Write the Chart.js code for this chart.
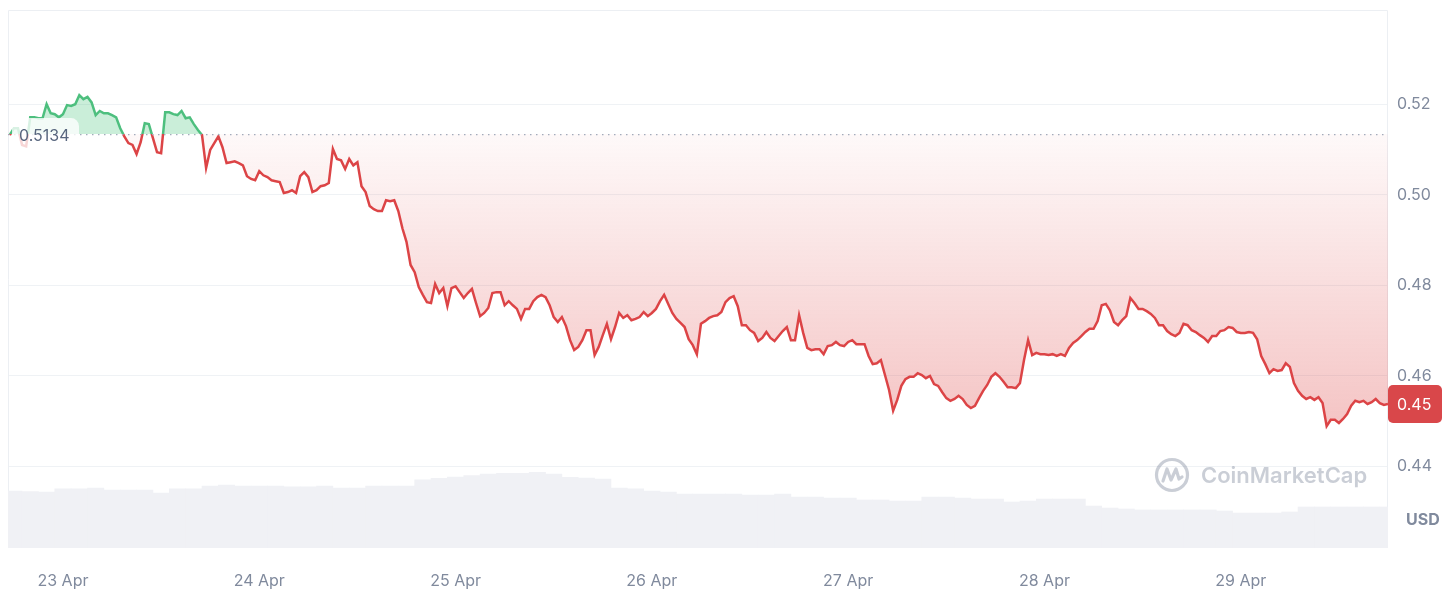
<!DOCTYPE html>
<html>
<head>
<meta charset="utf-8">
<script src="https://cdn.jsdelivr.net/npm/chart.js@4.4.1/dist/chart.umd.min.js"></script>
<style>
  html, body { margin: 0; padding: 0; background: #ffffff; }
  #wrap { width: 1456px; height: 604px; }
</style>
</head>
<body>
<div id="wrap"><canvas id="chart"></canvas></div>
<script>
// price every 30 min, first point 22 Apr 17:30 (hours counted from 23 Apr 00:00)
const priceStartHour = -6.5;
const priceStepHours = 0.5;
const prices = [
  0.5132, 0.5147, 0.5147, 0.5110, 0.5107, 0.5171, 0.5171, 0.5169, 0.5169, 0.5200,
  0.5180, 0.5178, 0.5171, 0.5178, 0.5198, 0.5196, 0.5200, 0.5220, 0.5211, 0.5216,
  0.5204, 0.5176, 0.5185, 0.5180, 0.5180, 0.5176, 0.5171, 0.5147, 0.5129, 0.5114,
  0.5110, 0.5090, 0.5116, 0.5158, 0.5156, 0.5125, 0.5094, 0.5092, 0.5182, 0.5182,
  0.5178, 0.5176, 0.5185, 0.5169, 0.5171, 0.5156, 0.5143, 0.5132, 0.5059, 0.5099,
  0.5114, 0.5129, 0.5105, 0.5070, 0.5072, 0.5074, 0.5070, 0.5065, 0.5041, 0.5035,
  0.5032, 0.5052, 0.5043, 0.5039, 0.5032, 0.5030, 0.5028, 0.5004, 0.5006, 0.5010,
  0.5004, 0.5041, 0.5050, 0.5039, 0.5006, 0.5010, 0.5019, 0.5021, 0.5026, 0.5101,
  0.5079, 0.5076, 0.5057, 0.5079, 0.5065, 0.5072, 0.5019, 0.5006, 0.4975, 0.4968,
  0.4964, 0.4964, 0.4988, 0.4986, 0.4988, 0.4964, 0.4926, 0.4896, 0.4845, 0.4829,
  0.4796, 0.4779, 0.4763, 0.4761, 0.4803, 0.4783, 0.4794, 0.4754, 0.4794, 0.4798,
  0.4785, 0.4772, 0.4783, 0.4792, 0.4761, 0.4732, 0.4739, 0.4750, 0.4783, 0.4785,
  0.4785, 0.4756, 0.4765, 0.4756, 0.4748, 0.4726, 0.4748, 0.4748, 0.4765, 0.4774,
  0.4779, 0.4774, 0.4756, 0.4730, 0.4719, 0.4730, 0.4710, 0.4679, 0.4657, 0.4664,
  0.4679, 0.4701, 0.4701, 0.4646, 0.4664, 0.4690, 0.4715, 0.4681, 0.4708, 0.4739,
  0.4728, 0.4734, 0.4723, 0.4726, 0.4730, 0.4741, 0.4732, 0.4739, 0.4748, 0.4765,
  0.4779, 0.4759, 0.4739, 0.4726, 0.4717, 0.4708, 0.4681, 0.4668, 0.4648, 0.4715,
  0.4721, 0.4728, 0.4732, 0.4734, 0.4741, 0.4763, 0.4772, 0.4776, 0.4754, 0.4712,
  0.4712, 0.4701, 0.4695, 0.4677, 0.4684, 0.4697, 0.4684, 0.4677, 0.4688, 0.4699,
  0.4708, 0.4679, 0.4679, 0.4734, 0.4695, 0.4662, 0.4657, 0.4659, 0.4659, 0.4648,
  0.4666, 0.4668, 0.4675, 0.4668, 0.4666, 0.4675, 0.4679, 0.4670, 0.4670, 0.4670,
  0.4644, 0.4626, 0.4628, 0.4635, 0.4602, 0.4569, 0.4523, 0.4547, 0.4578, 0.4593,
  0.4598, 0.4598, 0.4606, 0.4602, 0.4595, 0.4600, 0.4582, 0.4578, 0.4564, 0.4551,
  0.4545, 0.4549, 0.4556, 0.4549, 0.4536, 0.4529, 0.4534, 0.4551, 0.4567, 0.4580,
  0.4598, 0.4606, 0.4598, 0.4587, 0.4575, 0.4575, 0.4573, 0.4584, 0.4635, 0.4679,
  0.4646, 0.4651, 0.4648, 0.4648, 0.4646, 0.4648, 0.4644, 0.4648, 0.4644, 0.4662,
  0.4673, 0.4679, 0.4688, 0.4697, 0.4704, 0.4704, 0.4721, 0.4756, 0.4759, 0.4745,
  0.4719, 0.4712, 0.4723, 0.4732, 0.4772, 0.4761, 0.4748, 0.4748, 0.4743, 0.4737,
  0.4728, 0.4712, 0.4712, 0.4699, 0.4692, 0.4688, 0.4695, 0.4715, 0.4712, 0.4701,
  0.4697, 0.4690, 0.4684, 0.4675, 0.4688, 0.4688, 0.4699, 0.4701, 0.4708, 0.4706,
  0.4697, 0.4695, 0.4695, 0.4697, 0.4695, 0.4681, 0.4644, 0.4626, 0.4606, 0.4615,
  0.4611, 0.4613, 0.4628, 0.4620, 0.4584, 0.4567, 0.4556, 0.4549, 0.4553, 0.4547,
  0.4553, 0.4540, 0.4489, 0.4503, 0.4503, 0.4496, 0.4505, 0.4516, 0.4534, 0.4545,
  0.4542, 0.4545, 0.4538, 0.4542, 0.4549, 0.4540, 0.4536, 0.4538
];

// 24h volume (M USD) every 2 hours
const volumeStartHour = -6;
const volumeStepHours = 2;
const volumes = [
  424, 420, 416, 439, 439, 446, 431, 431, 431, 409,
  439, 439, 461, 468, 461, 461, 461, 454, 454, 461,
  446, 446, 461, 461, 461, 506, 518, 528, 538, 550,
  555, 555, 563, 550, 526, 520, 513, 446, 439, 424,
  416, 401, 401, 401, 401, 394, 394, 401, 379, 379,
  372, 372, 357, 357, 349, 349, 379, 379, 372, 364,
  364, 342, 349, 364, 364, 364, 312, 297, 290, 283,
  283, 283, 283, 283, 275, 260, 260, 260, 268, 305,
  305, 305, 305, 305, 305
];

const dayHours = [0, 24, 48, 72, 96, 120, 144];
const dayLabels = ['23 Apr', '24 Apr', '25 Apr', '26 Apr', '27 Apr', '28 Apr', '29 Apr'];
const priceTicks = [0.44, 0.46, 0.48, 0.50, 0.52];
const openPrice = 0.5134;
const lastPriceLabel = '0.45';

const GREEN = '#4dbf7e';
const RED = '#dc4446';
const GREY = '#808a9d';
const FONT = 'Inter, "Noto Sans", sans-serif';

const priceData = prices.map((p, i) => ({ x: priceStartHour + i * priceStepHours, y: p }));
const volumeData = volumes.map((v, i) => ({ x: volumeStartHour + i * volumeStepHours, y: v }));

function basePixel(chart) {
  return chart.scales.y.getPixelForValue(openPrice);
}

function lineColor(context) {
  const chart = context.chart;
  const a = chart.chartArea;
  if (!a) return RED;
  const yb = basePixel(chart);
  const s = Math.min(1, Math.max(0, (yb - a.top) / (a.bottom - a.top)));
  const g = chart.ctx.createLinearGradient(0, a.top, 0, a.bottom);
  g.addColorStop(0, GREEN);
  g.addColorStop(s, GREEN);
  g.addColorStop(s, RED);
  g.addColorStop(1, RED);
  return g;
}

function redFill(context) {
  const chart = context.chart;
  const a = chart.chartArea;
  if (!a) return 'rgba(220,60,60,0.1)';
  const yb = basePixel(chart);
  const yl = chart.scales.y.getPixelForValue(Math.min(...prices));
  const g = chart.ctx.createLinearGradient(0, yb, 0, yl);
  g.addColorStop(0, 'rgba(220,60,60,0.03)');
  g.addColorStop(1, 'rgba(220,60,60,0.30)');
  return g;
}

const overlay = {
  id: 'overlay',
  beforeDatasetsDraw(chart) {
    const { ctx, chartArea: a } = chart;
    ctx.save();
    // frame
    ctx.strokeStyle = '#eceff3';
    ctx.lineWidth = 1;
    ctx.beginPath();
    ctx.moveTo(a.left + 0.5, a.bottom);
    ctx.lineTo(a.left + 0.5, a.top + 0.5);
    ctx.lineTo(a.right - 0.5, a.top + 0.5);
    ctx.lineTo(a.right - 0.5, a.bottom);
    ctx.stroke();

    // watermark
    const cx = 1172, cy = 475;
    ctx.strokeStyle = 'rgba(128,138,157,0.42)';
    ctx.lineWidth = 3.2;
    ctx.lineCap = 'round';
    ctx.lineJoin = 'round';
    ctx.beginPath();
    ctx.arc(cx, cy, 15.5, 0, Math.PI * 2);
    ctx.stroke();
    ctx.beginPath();
    ctx.moveTo(cx - 9, cy + 6);
    ctx.lineTo(cx - 5, cy - 6);
    ctx.lineTo(cx - 1, cy + 5);
    ctx.lineTo(cx + 4, cy - 6);
    ctx.lineTo(cx + 7, cy + 4);
    ctx.lineTo(cx + 10, cy + 2);
    ctx.stroke();
    ctx.fillStyle = 'rgba(128,138,157,0.42)';
    ctx.font = '600 22px ' + FONT;
    ctx.textBaseline = 'middle';
    ctx.textAlign = 'left';
    ctx.fillText('CoinMarketCap', 1201, cy + 1);
    ctx.restore();
  },
  afterDatasetsDraw(chart) {
    const { ctx, chartArea: a, scales } = chart;
    const yb = basePixel(chart);
    ctx.save();

    // dotted open-price line
    ctx.strokeStyle = '#a3abbb';
    ctx.lineWidth = 1.3;
    ctx.setLineDash([1.5, 4.5]);
    ctx.beginPath();
    ctx.moveTo(a.left, yb + 0.5);
    ctx.lineTo(a.right, yb + 0.5);
    ctx.stroke();
    ctx.setLineDash([]);

    // open price label
    ctx.fillStyle = 'rgba(255,255,255,0.78)';
    ctx.beginPath();
    ctx.roundRect(12, yb - 16, 67, 31, 8);
    ctx.fill();
    ctx.fillStyle = '#58667e';
    ctx.font = '16px ' + FONT;
    ctx.textBaseline = 'middle';
    ctx.textAlign = 'left';
    ctx.fillText(openPrice.toFixed(4), 19, yb + 2);

    // last price badge
    const yl = scales.y.getPixelForValue(prices[prices.length - 1]);
    ctx.fillStyle = '#d9474a';
    ctx.beginPath();
    ctx.roundRect(a.right, yl - 19, 54, 38, 5);
    ctx.fill();
    ctx.fillStyle = '#ffffff';
    ctx.font = '16px ' + FONT;
    ctx.fillText(lastPriceLabel, a.right + 9, yl + 1);

    // currency
    ctx.fillStyle = GREY;
    ctx.font = 'bold 16px ' + FONT;
    ctx.fillText('USD', 1406, 520);
    ctx.restore();
  }
};

new Chart(document.getElementById('chart'), {
  data: {
    datasets: [
      {
        type: 'line',
        label: 'Price',
        data: priceData,
        yAxisID: 'y',
        borderColor: lineColor,
        backgroundColor: redFill,
        borderWidth: 2.5,
        pointRadius: 0,
        tension: 0,
        fill: { target: { value: openPrice }, above: 'rgba(52,190,110,0.26)' },
        order: 1
      },
      {
        type: 'bar',
        label: 'Volume',
        data: volumeData,
        yAxisID: 'yv',
        backgroundColor: '#f0f1f5',
        borderWidth: 0,
        barPercentage: 1,
        categoryPercentage: 1,
        order: 2
      }
    ]
  },
  options: {
    responsive: true,
    maintainAspectRatio: false,
    animation: false,
    layout: { padding: { left: 8, top: 10, right: 0, bottom: 0 } },
    plugins: {
      legend: { display: false },
      tooltip: { enabled: false }
    },
    scales: {
      x: {
        type: 'linear',
        min: -6.72,
        max: 162,
        offset: false,
        grid: { display: false },
        border: { display: false },
        afterBuildTicks: (scale) => { scale.ticks = dayHours.map(v => ({ value: v })); },
        afterFit: (scale) => {
          scale.height = 56;
          scale.paddingLeft = 0;
          scale.paddingRight = 0;
        },
        ticks: {
          autoSkip: false,
          maxRotation: 0,
          padding: 16,
          color: GREY,
          font: { family: FONT, size: 16 },
          callback: (v, i) => dayLabels[i]
        }
      },
      y: {
        type: 'linear',
        position: 'right',
        min: 0.4220,
        max: 0.5408,
        grid: { color: '#eff2f5', drawTicks: false },
        border: { display: false },
        afterBuildTicks: (scale) => { scale.ticks = priceTicks.map(v => ({ value: v })); },
        afterFit: (scale) => {
          scale.width = 68;
          scale.paddingTop = 0;
          scale.paddingBottom = 0;
        },
        ticks: {
          padding: 9,
          color: GREY,
          font: { family: FONT, size: 16 },
          callback: (v) => Number(v).toFixed(2)
        }
      },
      yv: {
        type: 'linear',
        display: false,
        min: 0,
        max: 4000
      }
    }
  },
  plugins: [overlay]
});
</script>
</body>
</html>
